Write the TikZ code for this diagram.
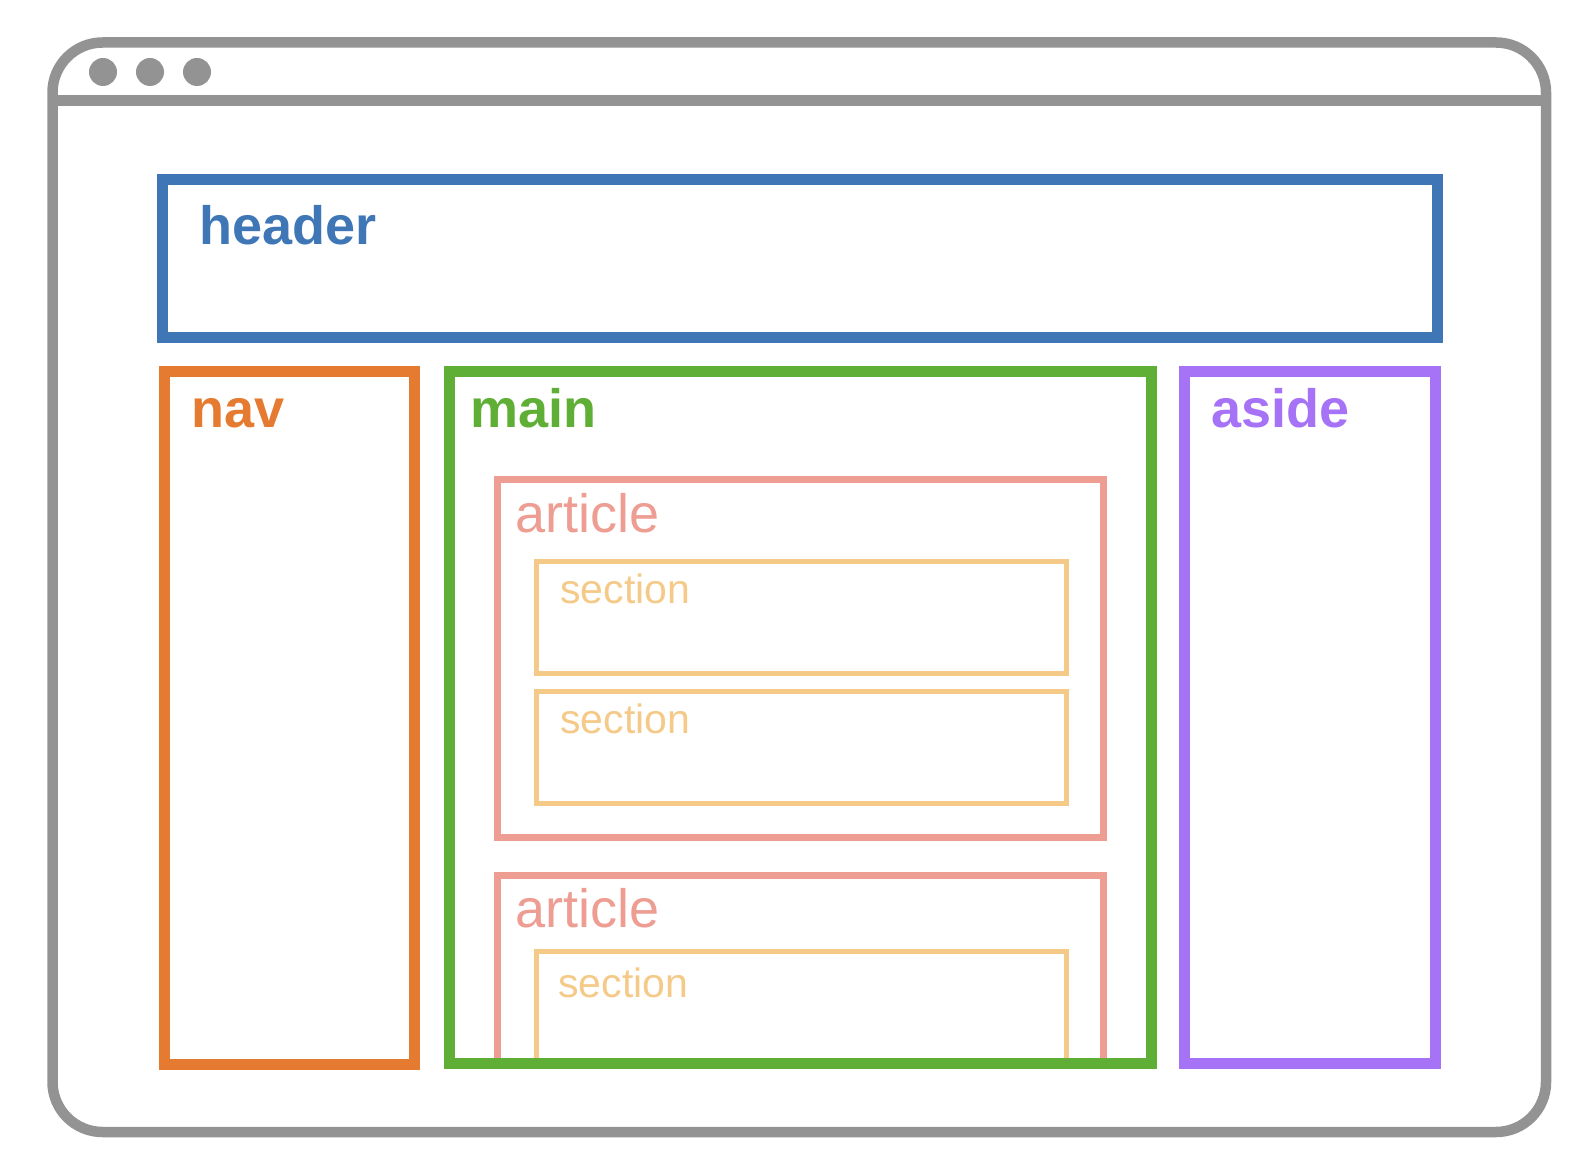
\documentclass[tikz,border=0pt]{standalone}
\usepackage{fontspec}
\setmainfont{Liberation Sans}
\usepackage{tikz}
\definecolor{framegray}{HTML}{939393}
\definecolor{headerblue}{HTML}{3E76B6}
\definecolor{navorange}{HTML}{E47B31}
\definecolor{maingreen}{HTML}{5FAF36}
\definecolor{asidepurple}{HTML}{A672F6}
\definecolor{articlepink}{HTML}{EE9D93}
\definecolor{sectionyellow}{HTML}{F5CA88}
\tikzset{
  frame/.style={draw=framegray, line width=5.25pt},
  region/.style={draw=#1, line width=5.5pt, line join=miter},
  articlebox/.style={draw=articlepink, line width=3.5pt},
  sectionbox/.style={draw=sectionyellow, line width=2.5pt},
  tag/.style={anchor=base west, inner sep=0pt, text=#1,
    font=\fontsize{27}{31}\selectfont\bfseries},
  articletag/.style={anchor=base west, inner sep=0pt, text=articlepink,
    font=\fontsize{27}{31}\selectfont},
  sectiontag/.style={anchor=base west, inner sep=0pt, text=sectionyellow,
    font=\fontsize{20.5}{24}\selectfont}
}

\begin{document}
\begin{tikzpicture}[x=0.5pt, y=-0.5pt]
  \useasboundingbox (0,0) rectangle (1578,1160);

  % Browser window
  \draw[frame, rounded corners=25pt] (52.5,42.5) rectangle (1546,1132);
  \draw[frame] (52.5,100.5) -- (1546,100.5);
  \foreach \x in {103,150,197}
    \fill[framegray] (\x,72) circle (7pt);

  % Page regions
  \draw[region=headerblue] (162.5,179.5) rectangle (1437.5,338);
  \draw[region=navorange] (164.5,371.5) rectangle (414,1064);
  \draw[region=asidepurple] (1184,371.5) rectangle (1435.5,1063.5);

  % Articles and sections inside main
  \draw[articlebox] (497.5,479.5) rectangle (1103,837.5);
  \foreach \y/\h in {561.5/673.5, 691.5/803}
    \draw[sectionbox] (536.5,\y) rectangle (1066,\h);
  \draw[articlebox] (497.5,1063.5) -- (497.5,875) -- (1103,875) -- (1103,1063.5);
  \draw[sectionbox] (536.5,1063.5) -- (536.5,951.5) -- (1066,951.5) -- (1066,1063.5);
  \draw[region=maingreen] (449,371.5) rectangle (1151.5,1063.5);

  % Labels
  \node[tag=headerblue]   (header)   at (199,245)    {header};
  \node[tag=navorange]    (nav)      at (191.5,427)  {nav};
  \node[tag=maingreen]    (main)     at (470.5,427)  {main};
  \node[tag=asidepurple]  (aside)    at (1211,427)   {aside};
  \node[articletag]       (article1) at (515,532)    {article};
  \node[articletag]       (article2) at (515,927.5)  {article};
  \node[sectiontag]       (section1) at (560,603)    {section};
  \node[sectiontag]       (section2) at (560,733)    {section};
  \node[sectiontag]       (section3) at (558,997)    {section};

\end{tikzpicture}
\end{document}
